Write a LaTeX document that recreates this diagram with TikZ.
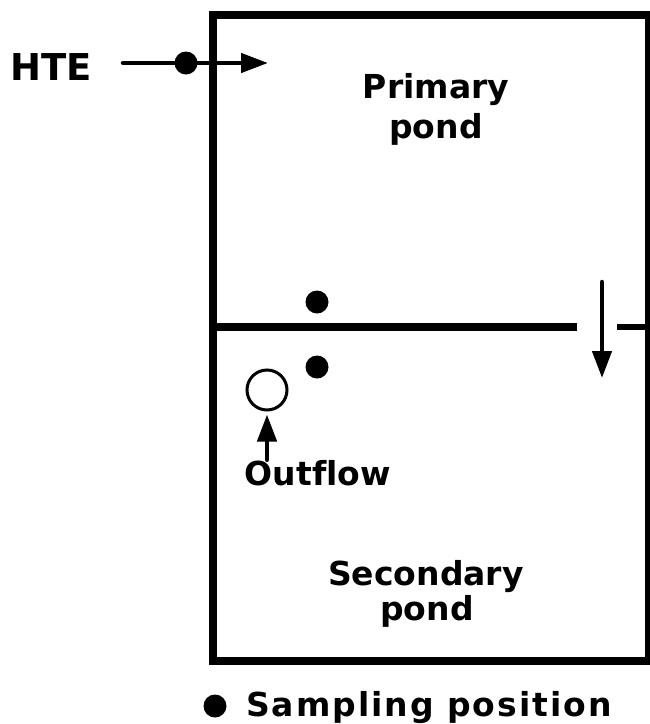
\documentclass[tikz,border=0pt]{standalone}
\usepackage{fontspec}
\setmainfont{DejaVu Sans}[Ligatures=CommonOff]
\newfontfamily\legendfont{DejaVu Sans}[LetterSpace=6, Ligatures=CommonOff]
\usetikzlibrary{arrows.meta}
\begin{document}
\begin{tikzpicture}[x=1pt,y=-1pt,
  wall/.style={line width=8pt, line cap=butt},
  thinwall/.style={line width=5pt, line cap=butt},
  flow/.style={line width=4.5pt, line cap=round, -{Triangle[length=27pt,width=19pt]}},
  sample/.style={circle, fill=black, inner sep=0pt, minimum size=23pt},
  lbl/.style={font=\bfseries\fontsize{33}{40}\selectfont, anchor=base, inner sep=0pt},
  outlet/.style={circle, draw, line width=3pt, minimum size=40pt, inner sep=0pt}]
\useasboundingbox (0,0) rectangle (650,724);
% pond walls
\coordinate (tl) at (213,15);
\coordinate (tr) at (650,15);
\coordinate (bl) at (213,661);
\coordinate (br) at (650,661);
\coordinate (rt) at (647.5,11);
\coordinate (rb) at (647.5,665);
\draw[wall, line join=miter] (tr) -- (tl) -- (bl) -- (br);
\draw[thinwall] (rt) -- (rb);
% divider with gap
\coordinate (dl) at (213,327);
\coordinate (dm) at (577,327);
\coordinate (dn) at (617,327);
\coordinate (dr) at (648,327);
\draw[wall] (dl) -- (dm);
\draw[line width=6pt] (dn) -- (dr);
% transfer arrow
\coordinate (fa) at (602,282);
\coordinate (fb) at (602,378);
\draw[flow] (fa) -- (fb);
% inflow
\node[font=\bfseries\fontsize{37}{44}\selectfont, anchor=base west, inner sep=0pt] (hte) at (10,80) {HTE};
\coordinate (hs) at (123,63);
\coordinate (he) at (268,63);
\draw[flow] (hs) -- (he);
\node[sample] (s0) at (186,63) {};
% sampling points
\node[sample] (s1) at (317,302) {};
\node[sample] (s2) at (317,367) {};
% outflow
\node[outlet] (out) at (267,390) {};
\node[lbl] (outlbl) at (318,485) {Outflow};
\draw[flow, shorten >=3pt] (out.south |- outlbl.north) -- (out.south);
% labels
\node[lbl] (p1) at (436,98) {Primary};
\node[lbl] (p2) at (436,138) {pond};
\node[lbl] (q1) at (426,585) {Secondary};
\node[lbl] (q2) at (427,620) {pond};
% legend
\node[sample, minimum size=23pt] (leg) at (215,706) {};
\node[font=\legendfont\bfseries\fontsize{33}{40}\selectfont, anchor=base west, inner sep=0pt] (legtxt) at (246,716) {Sampling position};
\end{tikzpicture}
\end{document}
